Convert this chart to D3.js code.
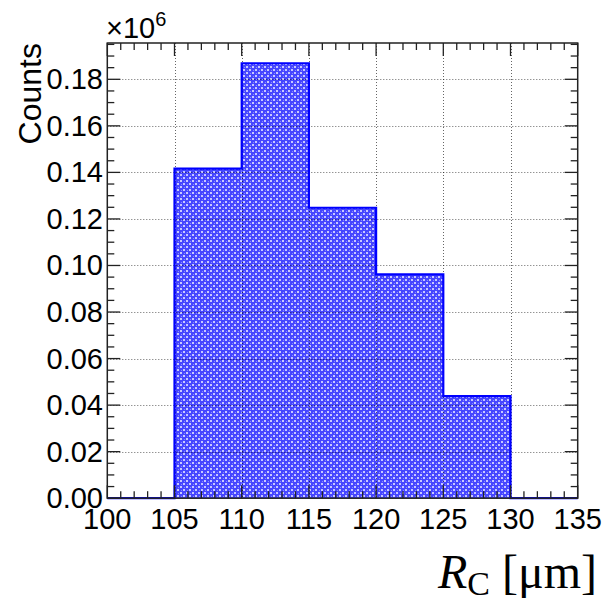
<!DOCTYPE html>
<html>
<head>
<meta charset="utf-8">
<script src="https://cdn.jsdelivr.net/npm/d3@7/dist/d3.min.js"></script>
<style>
  html, body { margin: 0; padding: 0; background: #fff; }
  svg { display: block; }
</style>
</head>
<body>
<div id="chart"></div>
<script>
// Bin edges of the histogram (R_C in µm)
const binEdges = [100, 105, 110, 115, 120, 125, 130, 135];
// Counts per bin, in units of 10^6
const counts = [0, 0.1416, 0.1869, 0.1248, 0.0962, 0.0439, 0];
const xTicks = [100, 105, 110, 115, 120, 125, 130, 135];
const yTicks = [0.00, 0.02, 0.04, 0.06, 0.08, 0.10, 0.12, 0.14, 0.16, 0.18];
const xDomain = [100, 135];
const yDomain = [0, 0.1956];

const W = 610, H = 601;
const L = 107.3, R = 577.7, T = 43, B = 498.2;

const svg = d3.select("#chart").append("svg")
  .attr("width", W).attr("height", H);

const x = d3.scaleLinear().domain(xDomain).range([L, R]);
const y = d3.scaleLinear().domain(yDomain).range([B, T]);

// fill pattern
const defs = svg.append("defs");
const pat = defs.append("pattern")
  .attr("id", "hatch").attr("patternUnits", "userSpaceOnUse")
  .attr("width", 6).attr("height", 6);
pat.append("rect").attr("width", 6).attr("height", 6).attr("fill", "#4646ff");
pat.append("rect").attr("x", 0).attr("y", 0).attr("width", 2).attr("height", 2).attr("fill", "#c8c8ff");
pat.append("rect").attr("x", 3).attr("y", 3).attr("width", 2).attr("height", 2).attr("fill", "#c8c8ff");
pat.append("rect").attr("x", 1).attr("y", 4).attr("width", 1).attr("height", 1).attr("fill", "#8a8aff");
pat.append("rect").attr("x", 4).attr("y", 1).attr("width", 1).attr("height", 1).attr("fill", "#8a8aff");

// bins as data
const bins = counts.map((c, i) => ({ x0: binEdges[i], x1: binEdges[i + 1], v: c }));

// filled bars
svg.append("g").selectAll("rect").data(bins.filter(d => d.v > 0)).join("rect")
  .attr("x", d => x(d.x0))
  .attr("y", d => y(d.v))
  .attr("width", d => x(d.x1) - x(d.x0))
  .attr("height", d => y(0) - y(d.v))
  .attr("fill", "url(#hatch)");

// grid
const grid = svg.append("g")
  .attr("stroke", "rgba(0,0,0,0.6)").attr("stroke-width", 1)
  .attr("stroke-dasharray", "1,2");
grid.selectAll("line.vx").data(xTicks.filter(t => t > xDomain[0] && t < xDomain[1])).join("line")
  .attr("x1", d => Math.round(x(d)) + 0.5).attr("x2", d => Math.round(x(d)) + 0.5)
  .attr("y1", T).attr("y2", B);
grid.selectAll("line.hy").data(yTicks.filter(t => t > 0)).join("line")
  .attr("y1", d => Math.round(y(d)) + 0.5).attr("y2", d => Math.round(y(d)) + 0.5)
  .attr("x1", L).attr("x2", R);

// histogram step outline
const pts = [];
bins.forEach(d => { pts.push([x(d.x0), y(d.v)]); pts.push([x(d.x1), y(d.v)]); });
svg.append("path")
  .attr("d", d3.line()(pts))
  .attr("fill", "none").attr("stroke", "#0000ff").attr("stroke-width", 2.2);

// frame
svg.append("rect").attr("x", L).attr("y", T).attr("width", R - L).attr("height", B - T)
  .attr("fill", "none").attr("stroke", "#222").attr("stroke-width", 1.5);

// ticks
const tk = svg.append("g").attr("stroke", "#222").attr("stroke-width", 1.3);
const xMinor = d3.range(xDomain[0], xDomain[1] + 0.001, 1);
xMinor.forEach(v => {
  const major = Math.abs(v % 5) < 1e-6;
  const len = major ? 13 : 7;
  const px = x(v);
  tk.append("line").attr("x1", px).attr("x2", px).attr("y1", B).attr("y2", B - len);
  tk.append("line").attr("x1", px).attr("x2", px).attr("y1", T).attr("y2", T + len);
});
const yMinor = d3.range(0, yDomain[1], 0.005);
yMinor.forEach((v, i) => {
  const major = i % 4 === 0;
  const len = major ? 13 : 7;
  const py = y(v);
  tk.append("line").attr("y1", py).attr("y2", py).attr("x1", L).attr("x2", L + len);
  tk.append("line").attr("y1", py).attr("y2", py).attr("x1", R).attr("x2", R - len);
});

// tick labels
const font = "'Liberation Sans', Arial, Helvetica, sans-serif";
svg.append("g").selectAll("text").data(xTicks).join("text")
  .attr("x", d => x(d)).attr("y", 529)
  .attr("text-anchor", "middle")
  .attr("font-family", font).attr("font-size", 29).attr("fill", "#000")
  .text(d => d3.format("d")(d));
svg.append("g").selectAll("text").data(yTicks).join("text")
  .attr("x", 103).attr("y", d => y(d) + 10)
  .attr("text-anchor", "end")
  .attr("font-family", font).attr("font-size", 29).attr("fill", "#000")
  .text(d => d3.format(".2f")(d));

// exponent label
const ex = svg.append("text").attr("x", 106).attr("y", 38)
  .attr("font-family", font).attr("font-size", 29).attr("fill", "#000");
ex.append("tspan").text("\u00D710");
ex.append("tspan").attr("dy", -12).attr("font-size", 20).text("6");

// y title
svg.append("text")
  .attr("transform", "translate(41,43) rotate(-90)")
  .attr("text-anchor", "end")
  .attr("font-family", font).attr("font-size", 32).attr("fill", "#000")
  .text("Counts");

// x title
const xt = svg.append("text").attr("x", 597).attr("y", 588)
  .attr("text-anchor", "end")
  .attr("font-family", "'Liberation Serif', 'DejaVu Serif', serif")
  .attr("font-size", 48).attr("fill", "#000");
xt.append("tspan").attr("font-style", "italic").text("R");
xt.append("tspan").attr("font-size", 34).attr("dy", 7).text("C");
xt.append("tspan").attr("dy", -7).text(" [\u03BCm]");
</script>
</body>
</html>
